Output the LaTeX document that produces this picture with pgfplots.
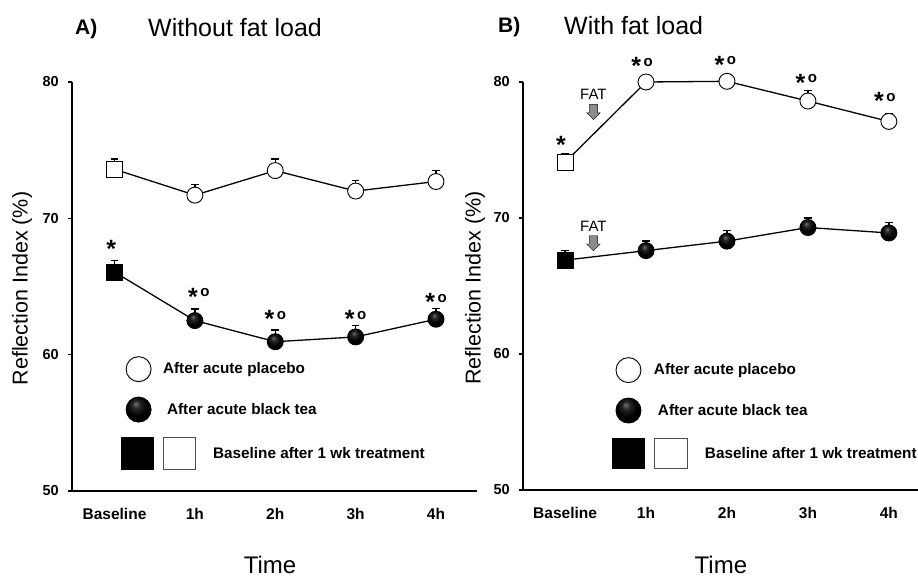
\documentclass[border=0pt]{standalone}
\usepackage{fontspec}
\setmainfont{Liberation Sans}
\usepackage{pgfplots}
\pgfplotsset{compat=1.18}
\usetikzlibrary{shapes.arrows}
\newcommand\fs[1]{\fontsize{#1}{#1}\selectfont}
\newcommand\st{{\fs{25}\bfseries *}}
\newcommand\sto{\st\hspace{2.5pt}{\fs{15}\bfseries\raisebox{8.6pt}{o}}}
\pgfdeclareradialshading{wball}{\pgfpoint{-8bp}{10bp}}{color(0bp)=(white); color(22bp)=(white); color(38bp)=(black!25); color(50bp)=(black!55)}
\pgfdeclareradialshading{bball}{\pgfpoint{-6bp}{12bp}}{color(0bp)=(black!55); color(8bp)=(black!85); color(20bp)=(black); color(50bp)=(black)}
\pgfdeclareplotmark{wball}{\pgfpathcircle{\pgfpointorigin}{\pgfplotmarksize}\pgfshadepath{wball}{0}\pgfusepathqstroke}
\pgfdeclareplotmark{bball}{\pgfpathcircle{\pgfpointorigin}{\pgfplotmarksize}\pgfshadepath{bball}{0}\pgfusepathqstroke}
\tikzset{fatarrow/.style={single arrow, draw=black, fill=black!45, minimum height=15pt, inner sep=4pt,
    single arrow head extend=2.5pt, shape border rotate=270}}
\pgfplotsset{
  panel/.style={
    scale only axis, anchor=south west, ymin=50, ymax=80,
    axis x line*=bottom, axis y line*=left,
    axis line style={line width=1.3pt, -},
    xtick={0,1,2,3,4}, xticklabels={\raisebox{3pt}{Baseline},1h,2h,3h,4h},
    ytick={50,60,70,80}, yticklabels={50,60,70,80},
    tick align=outside, major tick length=4pt,
    xtick style={draw=none}, ytick style={line width=1.3pt, black},
    xticklabel style={font=\bfseries\fs{15.5}, anchor=north, inner sep=0pt, yshift=-13pt},
    yticklabel style={font=\bfseries\fs{14.5}, anchor=east, inner sep=0pt, xshift=-9pt},
    ylabel={Reflection Index (\%)}, xlabel={Time},
    clip=false,
    legend cell align=left,
    legend style={anchor=north west, draw=none, fill=none, inner sep=0pt, row sep=14.5pt,
      font=\bfseries\fs{15.3}, nodes={inner sep=0pt}, column sep=17pt},
  },
  eline/.style={black, line width=1.3pt, forget plot, mark=none,
    error bars/.cd, y dir=plus, y explicit, error mark=|, error bar style={line width=1.3pt},
    error mark options={line width=1.3pt, mark size=3.8pt}},
}
\begin{document}
\begin{tikzpicture}[x=1pt,y=1pt]
\useasboundingbox (0,0) rectangle (918,577);
% ---------------- Panel A
\begin{axis}[panel, at={(72pt,86pt)}, width=405pt, height=409pt, xmin=-0.529, xmax=4.51,
  ylabel style={font=\fs{21.5}, at={(axis description cs:-0.123,0.495)}, anchor=center},
  xlabel style={font=\fs{24}, at={(axis description cs:0.489,0)}, anchor=center, yshift=-74pt},
  legend style={at={(axis description cs:0.121,0.330)}}]
\addplot[eline] coordinates {(0,73.6) +- (0,0.75) (1,71.7) +- (0,0.8) (2,73.5) +- (0,0.85) (3,72.0) +- (0,0.8) (4,72.7) +- (0,0.8)};
\addplot[eline] coordinates {(0,66.06) +- (0,0.85) (1,62.5) +- (0,0.85) (2,60.95) +- (0,0.85) (3,61.3) +- (0,0.85) (4,62.6) +- (0,0.8)};
\addplot[only marks, forget plot, mark=square*, mark size=8pt, mark options={fill=white, draw=black, line width=1pt}] coordinates {(0,73.6)};
\addplot[only marks, forget plot, mark=square*, mark size=8pt, mark options={fill=black, draw=black, line width=1pt}] coordinates {(0,66.06)};
\addplot[only marks, forget plot, mark=wball, mark size=8pt, mark options={draw=black, line width=0.9pt}] coordinates {(1,71.7) (2,73.5) (3,72.0) (4,72.7)};
\addplot[only marks, forget plot, mark=bball, mark size=8pt, mark options={draw=black, line width=0.9pt}] coordinates {(1,62.5) (2,60.95) (3,61.3) (4,62.6)};
\node[anchor=base, inner sep=0pt] at (axis cs:-0.04,67.1) {\st};
\node[anchor=base, inner sep=0pt] at (axis cs:1.05,63.6) {\sto};
\node[anchor=base, inner sep=0pt] at (axis cs:2,61.98) {\sto};
\node[anchor=base, inner sep=0pt] at (axis cs:3,61.98) {\sto};
\node[anchor=base, inner sep=0pt] at (axis cs:4,63.23) {\sto};
\addlegendimage{legend image code/.code={\path[shade, shading=wball, draw=black, line width=0.9pt] (17pt,0pt) circle (12.5pt);}}
\addlegendentry{\hspace*{-50pt}After acute placebo}
\addlegendimage{legend image code/.code={\path[shade, shading=bball, draw=black, line width=0.9pt] (17pt,0pt) circle (12.5pt);}}
\addlegendentry{\hspace*{-46pt}After acute black tea}
\addlegendimage{legend image code/.code={\draw[fill=black, line width=0.8pt] (0pt,-16pt) rectangle (32pt,16pt); \draw[fill=white, draw=black!70, line width=1pt] (42pt,-16pt) rectangle (74pt,16pt);}}
\addlegendentry{Baseline after 1 wk treatment}
\end{axis}
% ---------------- Panel B
\begin{axis}[panel, at={(523pt,87pt)}, width=395pt, height=408pt, xmin=-0.52, xmax=4.36,
  ylabel style={font=\fs{21.5}, at={(axis description cs:-0.1215,0.495)}, anchor=center},
  xlabel style={font=\fs{24}, at={(axis description cs:0.501,0)}, anchor=center, yshift=-75pt},
  legend style={at={(axis description cs:0.225,0.326)}}]
\addplot[eline] coordinates {(0,74.1) +- (0,0.6) (1,80.0) +- (0,0.3) (2,80.05) +- (0,0.3) (3,78.6) +- (0,0.75) (4,77.1) +- (0,0.6)};
\addplot[eline] coordinates {(0,66.9) +- (0,0.7) (1,67.6) +- (0,0.7) (2,68.3) +- (0,0.8) (3,69.3) +- (0,0.7) (4,68.9) +- (0,0.75)};
\addplot[only marks, forget plot, mark=square*, mark size=8pt, mark options={fill=white, draw=black, line width=1pt}] coordinates {(0,74.1)};
\addplot[only marks, forget plot, mark=square*, mark size=8pt, mark options={fill=black, draw=black, line width=1pt}] coordinates {(0,66.9)};
\addplot[only marks, forget plot, mark=wball, mark size=8pt, mark options={draw=black, line width=0.9pt}] coordinates {(1,80.0) (2,80.05) (3,78.6) (4,77.1)};
\addplot[only marks, forget plot, mark=bball, mark size=8pt, mark options={draw=black, line width=0.9pt}] coordinates {(1,67.6) (2,68.3) (3,69.3) (4,68.9)};
\node[anchor=base, inner sep=0pt] at (axis cs:-0.05,74.74) {\st};
\node[anchor=base, inner sep=0pt] at (axis cs:0.95,80.54) {\sto};
\node[anchor=base, inner sep=0pt] at (axis cs:1.98,80.64) {\sto};
\node[anchor=base, inner sep=0pt] at (axis cs:2.98,79.3) {\sto};
\node[anchor=base, inner sep=0pt] at (axis cs:3.95,77.97) {\sto};
\node[font=\fs{15}, inner sep=0pt] at (axis cs:0.35,79.12) {FAT};
\node[fatarrow] at (axis cs:0.35,77.94) {};
\node[font=\fs{15}, inner sep=0pt] at (axis cs:0.35,69.35) {FAT};
\node[fatarrow] at (axis cs:0.35,68.3) {};
\addlegendimage{legend image code/.code={\path[shade, shading=wball, draw=black, line width=0.9pt] (16pt,0pt) circle (12.5pt);}}
\addlegendentry{\hspace*{-51pt}After acute placebo}
\addlegendimage{legend image code/.code={\path[shade, shading=bball, draw=black, line width=0.9pt] (16pt,0pt) circle (12.5pt);}}
\addlegendentry{\hspace*{-47pt}After acute black tea}
\addlegendimage{legend image code/.code={\draw[fill=black, line width=0.8pt] (0pt,-15pt) rectangle (32pt,15pt); \draw[fill=white, draw=black!70, line width=1pt] (42pt,-15pt) rectangle (75pt,15pt);}}
\addlegendentry{Baseline after 1 wk treatment}
\end{axis}
% titles
\node[anchor=base west, inner sep=0pt, font=\bfseries\fs{21}] at (75,542) {A)};
\node[anchor=base west, inner sep=0pt, font=\fs{25}] at (148,540) {Without fat load};
\node[anchor=base west, inner sep=0pt, font=\bfseries\fs{21}] at (498,544) {B)};
\node[anchor=base west, inner sep=0pt, font=\fs{25}] at (564,542) {With fat load};
\end{tikzpicture}
\end{document}
